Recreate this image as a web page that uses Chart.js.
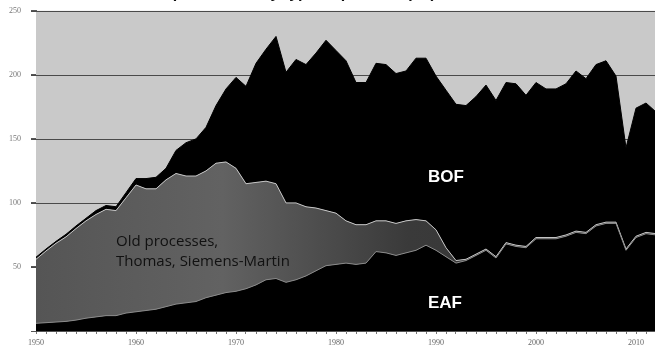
<!DOCTYPE html>
<html>
<head>
<meta charset="utf-8">
<script src="https://cdn.jsdelivr.net/npm/chart.js@4.4.1/dist/chart.umd.min.js"></script>
<style>
  html, body { margin:0; padding:0; background:#fff; overflow:hidden; width:655px; height:351px; }
  #wrap { position:relative; width:660px; height:351px; overflow:hidden; }
  #title { position:absolute; left:35px; top:-15px; font:bold 16px "Liberation Sans", Arial, sans-serif; line-height:16px; height:16px; color:#111; white-space:nowrap; z-index:2; }
  canvas { position:absolute; left:0; top:-4px; }
</style>
</head>
<body>
<div id="wrap">
  <div id="title">Evolution of steel production by type of process (Mt)</div>
  <canvas id="c" width="660" height="355"></canvas>
</div>
<script>
const years = ["1950","1951","1952","1953","1954","1955","1956","1957","1958","1959",
  "1960","1961","1962","1963","1964","1965","1966","1967","1968","1969",
  "1970","1971","1972","1973","1974","1975","1976","1977","1978","1979",
  "1980","1981","1982","1983","1984","1985","1986","1987","1988","1989",
  "1990","1991","1992","1993","1994","1995","1996","1997","1998","1999",
  "2000","2001","2002","2003","2004","2005","2006","2007","2008","2009",
  "2010","2011","2012"];

// Electric arc furnace (Mt)
const eaf = [6,6.5,7,7.5,8.5, 10,11,12,12,14,
  15,16,17,19,21, 22,23,26,28,30,
  31,33,36,40,41, 38,40,43,47,51,
  52,53,52,53,62, 61,59,61,63,67,
  63,58,53,55,59, 63,57,68,66,65,
  72,72,72,74,77, 76,82,84,84,63,
  73,76,75];

// Old processes: Thomas, Siemens-Martin (Mt)
const oldProc = [50,56,61.5,66,71.5, 76,80,83,82,90,
  99,95,94,99,102, 99,98,99,103,102,
  96,82,80,77,74, 62,60,54,49,43,
  40,33,31,30,24, 25,25,25,24,19,
  16,7,2,1,1, 1,1,1,1,1,
  1,1,1,1,1, 1,1,1,1,1,
  1,1,1];

// Basic oxygen furnace (Mt)
const bof = [1.6,1.5,1.5,2,2, 2,3,3,3,4,
  5,8,9,9,18, 26,29,34,45,57,
  71,76,93,103,115, 102,112,111,121,133,
  127,125,111,111,123, 122,117,117,126,127,
  120,123,122,120,123, 128,122,125,126,118,
  121,116,116,118,125, 120,125,126,114,79,
  100,101,95];

const yTicks = [50,100,150,200,250];

const bgPlugin = {
  id: 'bg',
  beforeDatasetsDraw(chart) {
    const {ctx, chartArea:a, scales} = chart;
    ctx.save();
    ctx.globalAlpha = 1;
    ctx.globalCompositeOperation = 'source-over';
    ctx.fillStyle = '#c9c9c9';
    ctx.fillRect(a.left, a.top, a.right - a.left, a.bottom - a.top);
    ctx.fillStyle = '#4a4a4a';
    yTicks.forEach(v => {
      const y = Math.round(scales.y.getPixelForValue(v));
      ctx.fillRect(a.left - 5, y, a.right - a.left + 5, 1);
    });
    ctx.restore();
  }
};

const labelPlugin = {
  id: 'labels',
  afterDatasetsDraw(chart) {
    const ctx = chart.ctx;
    ctx.save();
    ctx.textBaseline = 'alphabetic';
    ctx.textAlign = 'left';
    ctx.fillStyle = '#111';
    ctx.font = '15px "Open Sans", "Noto Sans", sans-serif';
    ctx.fillText('Old processes,', 116, 250);
    ctx.fillText('Thomas, Siemens-Martin', 116, 270);
    ctx.fillStyle = '#fff';
    ctx.font = 'bold 17px "Liberation Sans", Arial, sans-serif';
    ctx.fillText('BOF', 428, 186);
    ctx.fillText('EAF', 428, 312);
    ctx.restore();
  }
};

function oldFill(context) {
  const chart = context.chart;
  const a = chart.chartArea;
  if (!a) return '#555';
  const g = chart.ctx.createLinearGradient(a.left, 0, a.right, 0);
  g.addColorStop(0, '#555555');
  g.addColorStop(0.3, '#626262');
  g.addColorStop(0.6, '#3a3a3a');
  g.addColorStop(1, '#333333');
  return g;
}

new Chart(document.getElementById('c'), {
  type: 'line',
  data: {
    labels: years,
    datasets: [
      { label: 'EAF', data: eaf, fill: 'origin', backgroundColor: '#000', borderColor: '#8a8a8a', borderWidth: 1, pointRadius: 0, tension: 0 },
      { label: 'Old processes', data: oldProc, fill: '-1', backgroundColor: oldFill, borderColor: '#c4c4c4', borderWidth: 1, pointRadius: 0, tension: 0 },
      { label: 'BOF', data: bof, fill: '-1', backgroundColor: '#000', borderColor: '#000', borderWidth: 1, pointRadius: 0, tension: 0 }
    ]
  },
  options: {
    responsive: false,
    animation: false,
    devicePixelRatio: 1,
    layout: { padding: { top: 6, right: 3, bottom: 0, left: 0 } },
    plugins: { legend: { display: false }, tooltip: { enabled: false }, title: { display: false } },
    scales: {
      x: {
        type: 'category',
        offset: false,
        grid: { display: true, drawOnChartArea: false, tickLength: 3, color: '#777' },
        border: { display: true, color: '#555' },
        ticks: {
          autoSkip: false, maxRotation: 0, minRotation: 0, padding: 4,
          font: { family: '"Liberation Serif", serif', size: 8 }, color: '#666',
          callback: function(v, i) { const y = years[i]; return (parseInt(y) % 10 === 0) ? y : ''; }
        },
        afterFit(scale) { scale.height = 20; }
      },
      y: {
        stacked: true,
        min: 0, max: 250,
        afterBuildTicks(scale) { scale.ticks = [0].concat(yTicks).map(v => ({ value: v })); },
        grid: { color: '#555', lineWidth: 1, tickLength: 5, drawOnChartArea: false },
        border: { display: true, color: '#444' },
        ticks: {
          padding: 10,
          font: { family: '"Liberation Serif", serif', size: 8 }, color: '#777',
          callback: v => (v === 0 ? '' : v)
        },
        afterFit(scale) { scale.width = 36; }
      }
    }
  },
  plugins: [bgPlugin, labelPlugin]
});
</script>
</body>
</html>
